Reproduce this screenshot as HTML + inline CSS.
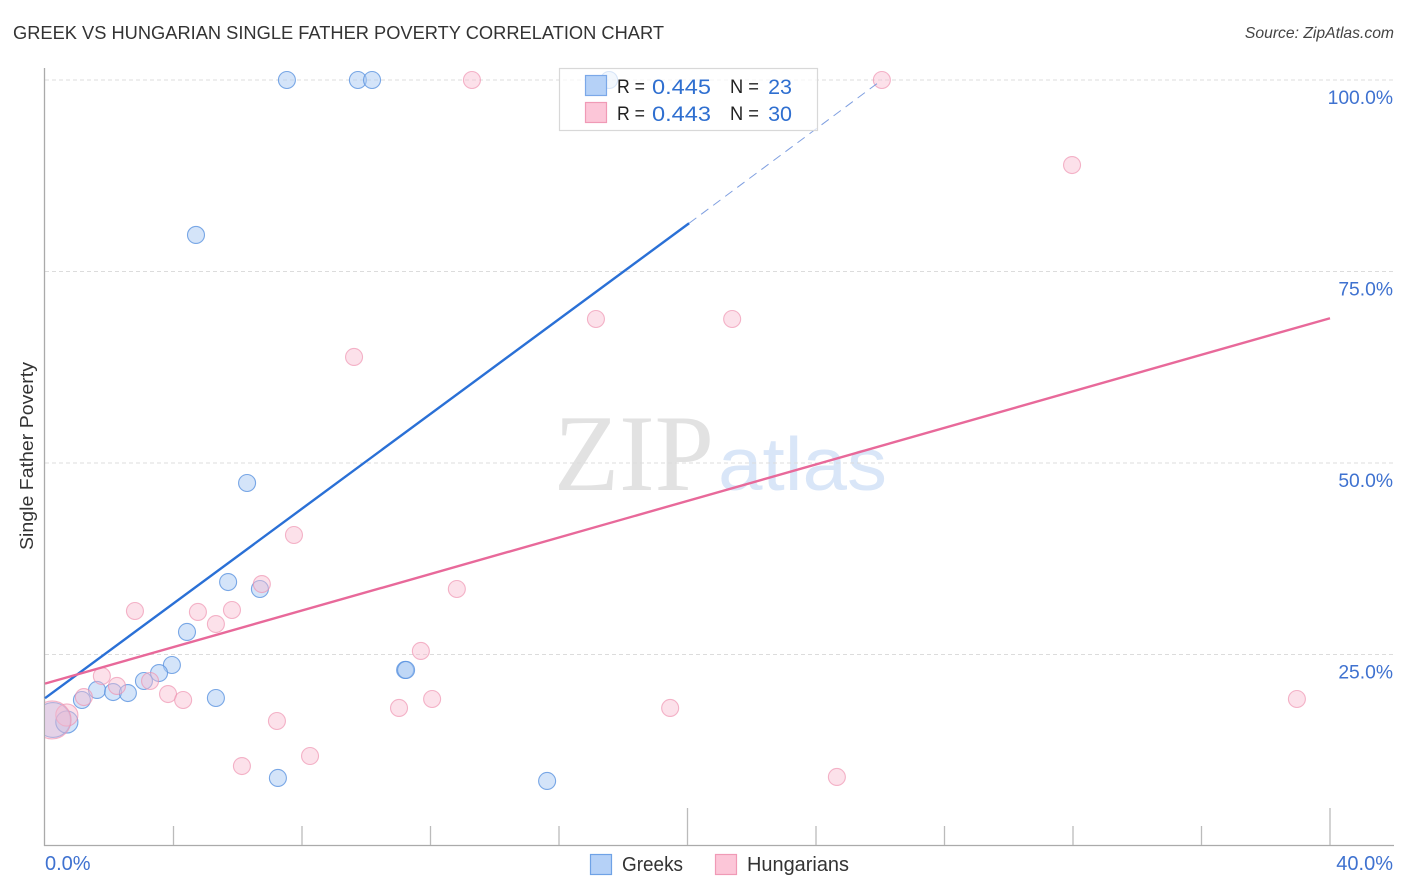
<!DOCTYPE html>
<html lang="en">
<head>
<meta charset="utf-8">
<title>Greek vs Hungarian Single Father Poverty Correlation Chart</title>
<style>
html,body{margin:0;padding:0;background:#fff;width:1406px;height:892px;overflow:hidden}
svg{display:block;font-family:"Liberation Sans",sans-serif}
</style>
</head>
<body>
<svg id="chart" xmlns="http://www.w3.org/2000/svg" width="1406" height="892" viewBox="0 0 1406 892">
  <defs>
    <clipPath id="plot-clip"><rect x="45" y="60" width="1350" height="786"/></clipPath>
  </defs>
  <rect width="1406" height="892" fill="#fff"/>
  <text x="13" y="39" font-size="18.5" fill="#333" textLength="651" lengthAdjust="spacingAndGlyphs">GREEK VS HUNGARIAN SINGLE FATHER POVERTY CORRELATION CHART</text>
  <text x="1394" y="38" font-size="15.7" font-style="italic" fill="#444" text-anchor="end">Source: ZipAtlas.com</text>
  <g>
    <text x="554" y="490" font-family="'Liberation Serif',serif" font-size="109" fill="#e2e2e2" textLength="160" lengthAdjust="spacingAndGlyphs">ZIP</text>
    <text x="718" y="490" font-size="75" fill="#d9e6f8" textLength="169" lengthAdjust="spacingAndGlyphs">atlas</text>
  </g>
  <g id="grid"></g>
  <g id="axes"></g>
  <g id="points" clip-path="url(#plot-clip)"></g>
  <g id="trends"></g>
  <text transform="translate(33,456) rotate(-90)" font-size="18.5" fill="#333" text-anchor="middle" textLength="188" lengthAdjust="spacingAndGlyphs">Single Father Poverty</text>
  <g>
    <rect x="559.5" y="68.5" width="258" height="62" fill="#fff" fill-opacity="0.7" stroke="#d8d8d8" stroke-width="1.2"/>
    <rect x="585.5" y="75.5" width="21" height="20" fill="#b5d1f7" stroke="#7ba8e8" stroke-width="1.2"/>
    <rect x="585.5" y="102.5" width="21" height="20" fill="#fcc6d8" stroke="#f09ab6" stroke-width="1.2"/>
    <g font-size="19" fill="#222">
      <text x="617" y="93" textLength="28" lengthAdjust="spacingAndGlyphs">R =</text>
      <text x="617" y="120" textLength="28" lengthAdjust="spacingAndGlyphs">R =</text>
      <text x="730" y="93" textLength="29" lengthAdjust="spacingAndGlyphs">N =</text>
      <text x="730" y="120" textLength="29" lengthAdjust="spacingAndGlyphs">N =</text>
    </g>
    <g font-size="21.5" fill="#2f6fd0">
      <text x="652" y="94" textLength="59" lengthAdjust="spacingAndGlyphs">0.445</text>
      <text x="652" y="121" textLength="59" lengthAdjust="spacingAndGlyphs">0.443</text>
      <text x="792" y="94" text-anchor="end">23</text>
      <text x="792" y="121" text-anchor="end">30</text>
    </g>
  </g>
  <g>
    <g>
      <rect x="590.5" y="854.5" width="21" height="20" fill="#b5d1f7" stroke="#6fa2e6" stroke-width="1.2"/>
      <text x="622" y="871" font-size="20" fill="#333" textLength="61" lengthAdjust="spacingAndGlyphs">Greeks</text>
    </g>
    <g>
      <rect x="715.5" y="854.5" width="21" height="20" fill="#fcc6d8" stroke="#f09ab6" stroke-width="1.2"/>
      <text x="747" y="871" font-size="20" fill="#333" textLength="102" lengthAdjust="spacingAndGlyphs">Hungarians</text>
    </g>
  </g>
</svg>
<script>
const greekX = [7.53,9.74,10.18,17.56,4.70,6.29,5.70,6.69,4.42,3.95,3.55,3.08,1.62,2.12,2.58,1.15,5.32,11.21,11.24,7.25,15.63,0.25,0.68];
const greekY = [100,100,100,100,79.77,47.39,34.46,33.55,27.94,23.63,22.58,21.54,20.37,20.10,19.97,19.06,19.32,22.98,22.98,8.88,8.49,16.45,16.19];
const greekWeight = [1,1,1,1,1,1,1,1,1,1,1,1,1,1,1,1,1,1,1,1,1,4.2,1.7];
const hungarianX = [13.29,26.05,31.97,17.15,21.39,9.62,7.75,6.75,12.82,2.80,4.76,5.82,5.32,11.70,1.77,2.24,3.27,3.83,4.30,1.21,12.05,11.02,19.46,38.97,7.22,8.25,6.13,24.65,0.68,0.22];
const hungarianY = [100,100,88.90,68.80,68.80,63.84,40.60,34.20,33.55,30.68,30.55,30.81,28.98,25.46,22.19,20.89,21.54,19.84,19.06,19.45,19.19,18.02,18.02,19.19,16.32,11.75,10.44,9.01,17.10,16.45];
const hungarianWeight = [1,1,1,1,1,1,1,1,1,1,1,1,1,1,1,1,1,1,1,1,1,1,1,1,1,1,1,1,1.7,5];
const greekTrendX = [0,20.05];
const greekTrendY = [19.3,81.3];
const greekDashX = [20.05,26.05];
const greekDashY = [81.3,100];
const hungarianTrendX = [0,40];
const hungarianTrendY = [21.2,68.9];
const yTicks = [25,50,75,100];
const yTickLabels = ["25.0%","50.0%","75.0%","100.0%"];
const xTicks = [4,8,12,16,20,24,28,32,36,40];
const xMajorTicks = [20,40];
const xTickLabels = ["0.0%","40.0%"];

const NS = "http://www.w3.org/2000/svg";
const xScale = v => 45 + v * 32.125;
const yScale = v => 846 - v * 7.66;
const sizeScale = w => 8.5 * Math.sqrt(w);
function make(parent, tag, attrs) {
  const el = document.createElementNS(NS, tag);
  for (const k in attrs) el.setAttribute(k, attrs[k]);
  parent.appendChild(el);
  return el;
}
const grid = document.getElementById("grid");
const axes = document.getElementById("axes");
const pts = document.getElementById("points");
const trends = document.getElementById("trends");

yTicks.forEach((t, i) => {
  const line = make(grid, "line", {x1: 45, x2: 1393, y1: yScale(t), y2: yScale(t), stroke: "#dcdcdc", "stroke-width": 1, "stroke-dasharray": "4 3"});
  
  
  const label = make(axes, "text", {x: 1393, y: yScale(t) + 24, "font-size": 19.3, fill: "#3f72d0", "text-anchor": "end"});
  label.textContent = yTickLabels[i];
  
  
});

const yAxis = make(axes, "line", {x1: 44.5, x2: 44.5, y1: 68, y2: 846, stroke: "#aaa", "stroke-width": 1.3});


const xAxis = make(axes, "line", {x1: 44, x2: 1394, y1: 845.5, y2: 845.5, stroke: "#aaa", "stroke-width": 1.3});



xTicks.forEach(t => {
  const top = xMajorTicks.includes(t) ? 808 : 826;
  const tick = make(axes, "line", {x1: xScale(t), x2: xScale(t), y1: top, y2: 845, stroke: "#bbb", "stroke-width": 1.3});
  
  
});

const xLabelLeft = make(axes, "text", {x: 45, y: 870, "font-size": 20, fill: "#3f72d0"});
xLabelLeft.textContent = xTickLabels[0];


const xLabelRight = make(axes, "text", {x: 1393, y: 870, "font-size": 20, fill: "#3f72d0", "text-anchor": "end"});
xLabelRight.textContent = xTickLabels[1];



greekX.forEach((x, i) => {
  const c = make(pts, "circle", {cx: xScale(x), cy: yScale(greekY[i]), r: sizeScale(greekWeight[i]), fill: "#a9c9f3", "fill-opacity": 0.5, stroke: "#5b93e0", "stroke-opacity": 0.8, "stroke-width": 1.1});
  
  
});
hungarianX.forEach((x, i) => {
  const c = make(pts, "circle", {cx: xScale(x), cy: yScale(hungarianY[i]), r: sizeScale(hungarianWeight[i]), fill: "#f9bdd1", "fill-opacity": 0.45, stroke: "#ee8fae", "stroke-opacity": 0.65, "stroke-width": 1.1});
  
  
});

const blueLine = make(trends, "line", {x1: xScale(greekTrendX[0]), y1: yScale(greekTrendY[0]), x2: xScale(greekTrendX[1]), y2: yScale(greekTrendY[1]), stroke: "#2a70d6", "stroke-width": 2.4});


const blueDash = make(trends, "line", {x1: xScale(greekDashX[0]), y1: yScale(greekDashY[0]), x2: xScale(greekDashX[1]), y2: yScale(greekDashY[1]), stroke: "#7f9fe0", "stroke-width": 1, "stroke-dasharray": "9 6"});


const pinkLine = make(trends, "line", {x1: xScale(hungarianTrendX[0]), y1: yScale(hungarianTrendY[0]), x2: xScale(hungarianTrendX[1]), y2: yScale(hungarianTrendY[1]), stroke: "#e8699a", "stroke-width": 2.4});


</script>
</body>
</html>
